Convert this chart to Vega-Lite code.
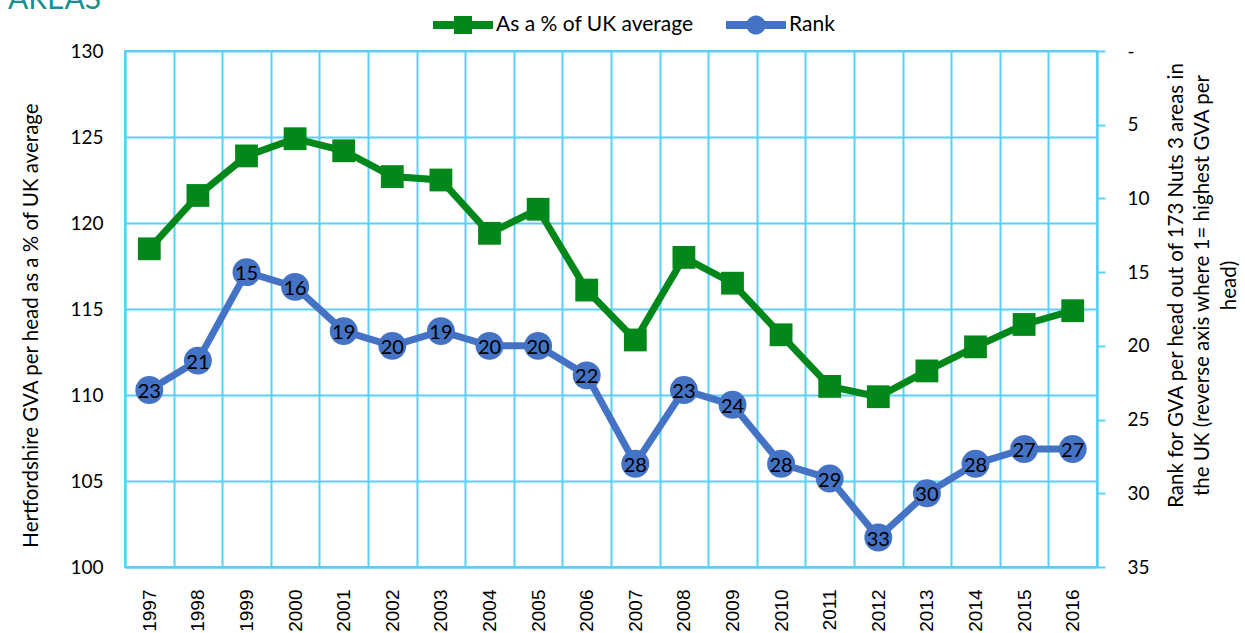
{
  "$schema": "https://vega.github.io/schema/vega-lite/v6.json",
  "width": 972,
  "height": 516,
  "autosize": "none",
  "padding": {"left": 125, "top": 51, "right": 148, "bottom": 66},
  "background": "white",
  "title": {"text": "AREAS", "anchor": "start", "frame": "group", "dx": -117, "offset": -50, "fontSize": 30, "font": "Lato", "fontWeight": "normal", "color": "#1A9090", "baseline": "bottom"},
  "config": {
    "view": {"stroke": "#58D0F8", "strokeWidth": 2},
    "font": "Lato"
  },
  "data": {"values": [
    {"year": "1997", "pct": 118.5, "rank": 23},
    {"year": "1998", "pct": 121.6, "rank": 21},
    {"year": "1999", "pct": 123.9, "rank": 15},
    {"year": "2000", "pct": 124.9, "rank": 16},
    {"year": "2001", "pct": 124.2, "rank": 19},
    {"year": "2002", "pct": 122.7, "rank": 20},
    {"year": "2003", "pct": 122.5, "rank": 19},
    {"year": "2004", "pct": 119.4, "rank": 20},
    {"year": "2005", "pct": 120.8, "rank": 20},
    {"year": "2006", "pct": 116.1, "rank": 22},
    {"year": "2007", "pct": 113.2, "rank": 28},
    {"year": "2008", "pct": 118.0, "rank": 23},
    {"year": "2009", "pct": 116.5, "rank": 24},
    {"year": "2010", "pct": 113.5, "rank": 28},
    {"year": "2011", "pct": 110.5, "rank": 29},
    {"year": "2012", "pct": 109.9, "rank": 33},
    {"year": "2013", "pct": 111.4, "rank": 30},
    {"year": "2014", "pct": 112.8, "rank": 28},
    {"year": "2015", "pct": 114.1, "rank": 27},
    {"year": "2016", "pct": 114.9, "rank": 27}
  ]},
  "encoding": {
    "x": {"field": "year", "type": "ordinal", "scale": {"type": "band", "paddingInner": 0, "paddingOuter": 0},
      "axis": {"title": null, "tickBand": "extent", "grid": true, "gridColor": "#58D0F8", "gridWidth": 2, "gridOpacity": 1,
        "domain": true, "domainColor": "#58D0F8", "domainWidth": 2, "ticks": false, "labelAngle": -90, "labelAlign": "right", "labelBaseline": "middle",
        "labelFont": "Liberation Sans", "labelFontSize": 19, "labelColor": "#000000", "labelPadding": 22}}
  },
  "layer": [
    {
      "encoding": {
        "y": {"field": "pct", "type": "quantitative", "scale": {"domain": [100, 130], "nice": false, "zero": false},
          "axis": {"orient": "left", "values": [100, 105, 110, 115, 120, 125, 130], "grid": true, "gridColor": "#58D0F8", "gridWidth": 2, "gridOpacity": 1,
            "domain": true, "domainColor": "#58D0F8", "domainWidth": 2, "ticks": false, "labelFontSize": 19, "labelColor": "#000000", "labelPadding": 22,
            "title": "Hertfordshire GVA per head as a % of UK average", "titleFontSize": 20.5, "titleFontWeight": "normal", "titleColor": "#000000",
            "titleAngle": 270, "titleBaseline": "top", "titleAlign": "center", "titleX": -104, "titleY": 274}},
        "color": {"datum": "As a % of UK average", "type": "nominal",
          "scale": {"domain": ["As a % of UK average", "Rank"], "range": ["#02881A", "#4472C4"]},
          "legend": {"orient": "none", "legendX": 308, "legendY": -56, "direction": "horizontal", "title": null,
            "symbolSize": 3600, "symbolStrokeWidth": 0, "symbolType": "M-1,-0.13H1V0.13H-1Z",
            "labelFontSize": 21, "labelColor": "#000000", "labelOffset": 3, "columnPadding": 32, "labelLimit": 0,
            "encode": {"symbols": {"update": {
              "shape": {"signal": "datum.value === 'Rank' ? 'M-1,-0.13H1V0.13H-1Z M-0.32,0A0.32,0.32 0 1,1 0.32,0A0.32,0.32 0 1,1 -0.32,0Z' : 'M-1,-0.13H1V0.13H-1Z M-0.3,-0.3H0.3V0.3H-0.3Z'"},
              "fill": {"signal": "datum.value === 'Rank' ? '#4472C4' : '#02881A'"},
              "fillOpacity": {"value": 1},
              "stroke": {"value": "transparent"}}}}}}
      },
      "layer": [
        {"mark": {"type": "line", "strokeWidth": 7}},
        {"mark": {"type": "point", "shape": "square", "filled": true, "size": 520, "opacity": 1}}
      ]
    },
    {
      "encoding": {
        "y": {"field": "rank", "type": "quantitative", "scale": {"domain": [0, 35], "nice": false, "zero": true, "reverse": true},
          "axis": {"orient": "right", "values": [0, 5, 10, 15, 20, 25, 30, 35], "labelExpr": "datum.value == 0 ? '-' : datum.label", "grid": false,
            "domain": true, "domainColor": "#58D0F8", "domainWidth": 2, "ticks": true, "tickColor": "#58D0F8", "tickWidth": 2, "tickSize": 8,
            "labelFontSize": 19, "labelColor": "#000000", "labelPadding": 22,
            "title": ["Rank for GVA per head out of 173 Nuts 3 areas in", "the UK (reverse axis where 1= highest GVA per", "head)"],
            "titleFontSize": 20.5, "titleFontWeight": "normal", "titleColor": "#000000", "titleLineHeight": 26.5,
            "titleAngle": 270, "titleBaseline": "top", "titleAlign": "center", "titleX": 69, "titleY": 234}}
      },
      "layer": [
        {"mark": {"type": "line", "strokeWidth": 7}, "encoding": {"color": {"datum": "Rank", "type": "nominal"}}},
        {"mark": {"type": "point", "shape": "circle", "filled": true, "size": 780, "opacity": 1}, "encoding": {"color": {"datum": "Rank", "type": "nominal"}}},
        {"mark": {"type": "text", "fontSize": 20, "color": "#000000", "align": "center", "baseline": "middle", "dy": 2}, "encoding": {"text": {"field": "rank", "type": "quantitative"}}}
      ]
    }
  ],
  "resolve": {"scale": {"y": "independent"}}
}
